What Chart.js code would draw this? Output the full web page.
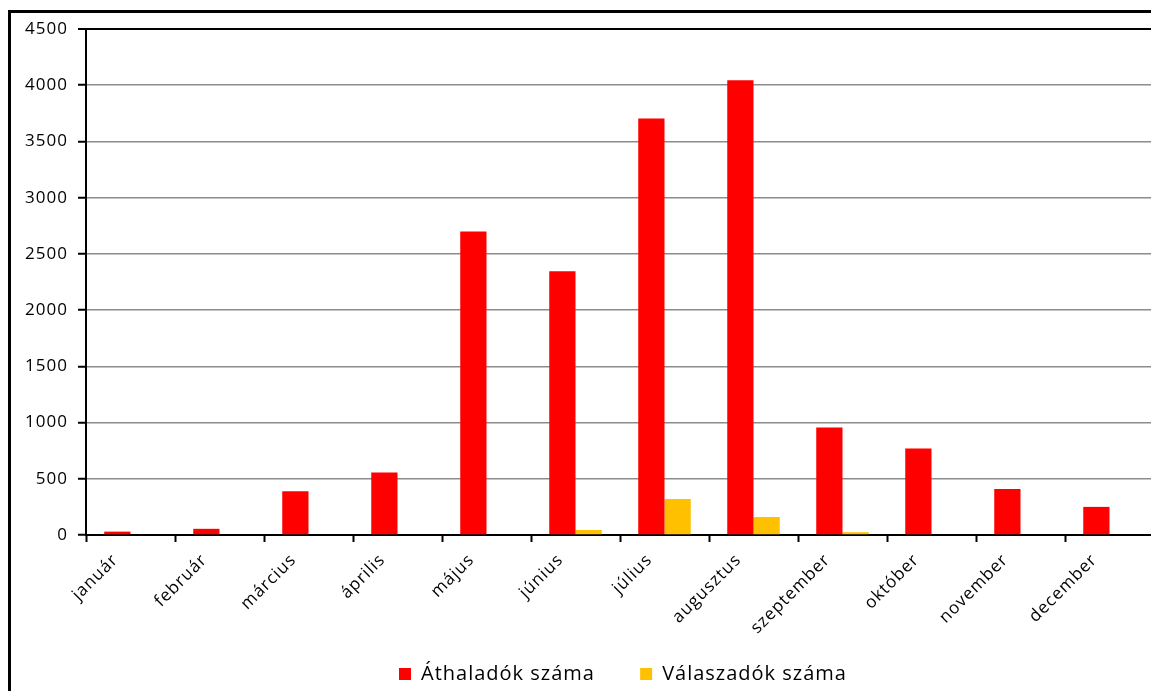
<!DOCTYPE html>
<html>
<head>
<meta charset="utf-8">
<script src="https://cdn.jsdelivr.net/npm/chart.js@4/dist/chart.umd.min.js"></script>
<style>
    html, body { margin: 0; padding: 0; background: #fff; overflow: hidden; }
    #frame { position: absolute; left: 8px; top: 10px; width: 2000px; height: 2000px; border-left: 3px solid #000; border-top: 3px solid #000; }
    #wrap { position: absolute; left: 0; top: 0; width: 1158px; height: 691px; }
</style>
</head>
<body>
<div id="frame"></div>
<div id="wrap"><canvas id="chart" width="1158" height="691"></canvas></div>
<script>
// Havi adatok
const months = ['január', 'február', 'március', 'április', 'május', 'június',
    'július', 'augusztus', 'szeptember', 'október', 'november', 'december'];
const passing = [30, 55, 390, 555, 2700, 2345, 3705, 4045, 955, 770, 410, 250];
const responding = [0, 0, 0, 0, 0, 45, 320, 160, 25, 0, 0, 0];
const yTicks = [0, 500, 1000, 1500, 2000, 2500, 3000, 3500, 4000, 4500];

const FONT = '"Open Sans", sans-serif';
Chart.defaults.color = '#000';
Chart.defaults.font.family = FONT;

// slight letter spacing like the original spreadsheet rendering
const spacing = {
    id: 'spacing',
    beforeUpdate(chart) { chart.ctx.letterSpacing = '1px'; },
    beforeDraw(chart) { chart.ctx.letterSpacing = '1px'; }
};

// legend sits a bit right of centre and lower in the original
const moveLegend = {
    id: 'moveLegend',
    afterLayout(chart) {
        const lg = chart.legend;
        if (!lg) return;
        lg.left += 46;
        lg.right += 46;
        lg.top += 3;
        lg.bottom += 3;
    }
};

const ctx = document.getElementById('chart');
new Chart(ctx, {
    type: 'bar',
    data: {
        labels: months,
        datasets: [
            { label: 'Áthaladók száma', data: passing, backgroundColor: '#ff0000' },
            { label: 'Válaszadók száma', data: responding, backgroundColor: '#ffc000' }
        ]
    },
    options: {
        responsive: false,
        animation: false,
        categoryPercentage: 0.59,
        barPercentage: 1,
        layout: { padding: { left: 0, top: 29, right: 4, bottom: 0 } },
        plugins: {
            tooltip: { enabled: false },
            legend: {
                position: 'bottom',
                labels: {
                    boxWidth: 12,
                    boxHeight: 12,
                    padding: 8,
                    font: { size: 20 },
                    generateLabels(chart) {
                        const items = Chart.defaults.plugins.legend.labels.generateLabels(chart);
                        items[0].text = items[0].text + '      ';
                        items.forEach(it => { it.lineWidth = 0; });
                        return items;
                    }
                }
            }
        },
        scales: {
            x: {
                grid: { offset: true, drawOnChartArea: false, tickLength: 7, tickColor: '#000', tickWidth: 2 },
                border: { color: '#000', width: 2 },
                ticks: { autoSkip: false, minRotation: 45, maxRotation: 45, padding: 8, labelOffset: -15, font: { size: 17 } },
                afterFit(scale) { scale.height = 118; }
            },
            y: {
                min: 0,
                max: 4500,
                afterBuildTicks(scale) { scale.ticks = yTicks.map(v => ({ value: v })); },
                grid: {
                    color: c => (c.tick && c.tick.value === 4500) ? '#000' : '#8c8c8c',
                    lineWidth: c => (c.tick && c.tick.value === 4500) ? 2 : 1.5,
                    tickLength: 8,
                    tickColor: '#000',
                    tickWidth: 2
                },
                border: { color: '#000', width: 2 },
                ticks: { padding: 10, font: { size: 17 }, callback: v => String(v) },
                afterFit(scale) { scale.width = 86; }
            }
        }
    },
    plugins: [spacing, moveLegend]
});
</script>
</body>
</html>
